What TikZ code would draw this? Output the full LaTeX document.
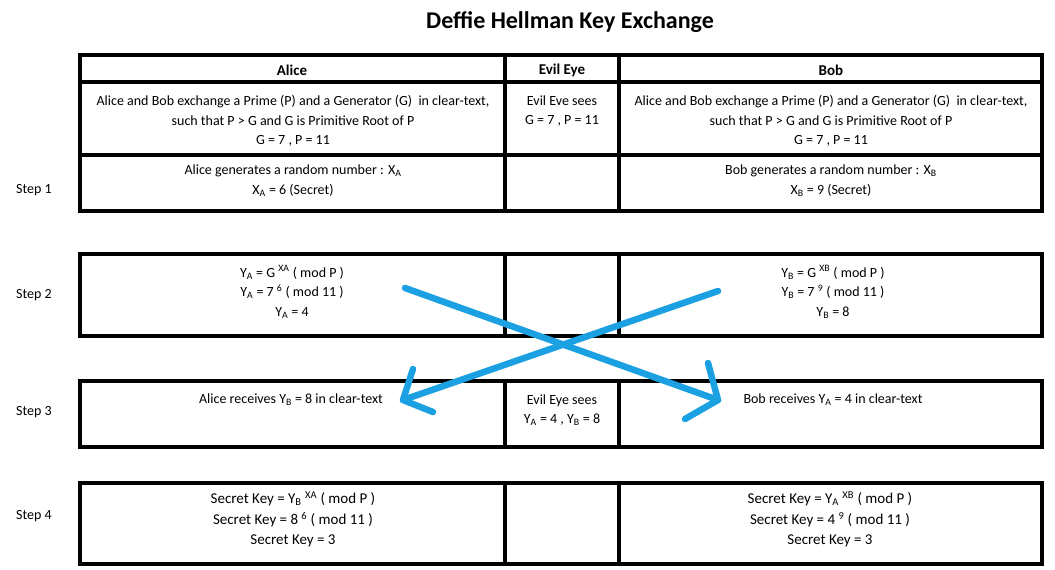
\documentclass[tikz,border=0pt]{standalone}
\usepackage{fontspec}
\setmainfont{Carlito}
\definecolor{arrowblue}{RGB}{27,161,226}
\begin{document}
\begin{tikzpicture}[x=1pt,y=-1pt,
  frame/.style={line width=4pt},
  cell/.style={align=center,inner sep=0pt,font=\fontsize{14}{19.5}\selectfont},
  hdr/.style={inner sep=0pt,font=\fontsize{15}{17}\selectfont\bfseries},
  steplbl/.style={inner sep=0pt,font=\fontsize{14}{16}\selectfont},
  bigarrow/.style={arrowblue,line width=6.5pt,line cap=round,line join=round}]
\useasboundingbox (0,0) rectangle (1055,570);
\fill[white] (0,0) rectangle (1055,570);
% title
\node[inner sep=0pt,font=\fontsize{24}{28}\selectfont\bfseries] (title) at (570,22) {Deffie Hellman Key Exchange};
% table 1
\draw[frame] (80,55) rectangle (1042,211);
\draw[frame] (80,82) -- (1042,82);
\draw[frame] (80,155) -- (1042,155);
\draw[frame] (505,55) -- (505,211);
\draw[frame] (619,55) -- (619,211);
% box 2
\draw[frame] (80,254) rectangle (1042,336);
\draw[frame] (505,254) -- (505,336);
\draw[frame] (619,254) -- (619,336);
% box 3
\draw[frame] (80,381) rectangle (1042,447);
\draw[frame] (505,381) -- (505,447);
\draw[frame] (619,381) -- (619,447);
% box 4
\draw[frame] (80,483) rectangle (1042,564);
\draw[frame] (505,483) -- (505,564);
\draw[frame] (619,483) -- (619,564);
% headers
\node[hdr] (hA) at (292,70) {Alice};
\node[hdr] (hE) at (562,70) {Evil Eye};
\node[hdr] (hB) at (831,70) {Bob};
% row: parameters
\node[cell] (r1A) at (293,121) {Alice and Bob exchange a Prime (P) and a Generator (G) \ in clear-text,\\ such that P > G and G is Primitive Root of P\\ G = 7 , P = 11};
\node[cell] (r1E) at (562,111) {Evil Eve sees\\ G = 7 , P = 11};
\node[cell] (r1B) at (831,121) {Alice and Bob exchange a Prime (P) and a Generator (G) \ in clear-text,\\ such that P > G and G is Primitive Root of P\\ G = 7 , P = 11};
% step 1
\node[cell] (s1A) at (293,180.5) {Alice generates a random number : X\textsubscript{A}\\ X\textsubscript{A} = 6 (Secret)};
\node[cell] (s1B) at (831,180.5) {Bob generates a random number : X\textsubscript{B}\\ X\textsubscript{B} = 9 (Secret)};
% step 2
\node[cell] (s2A) at (292,292) {Y\textsubscript{A} = G \textsuperscript{XA} ( mod P )\\ Y\textsubscript{A} = 7 \textsuperscript{6} ( mod 11 )\\ Y\textsubscript{A} = 4};
\node[cell] (s2B) at (833,292) {Y\textsubscript{B} = G \textsuperscript{XB} ( mod P )\\ Y\textsubscript{B} = 7 \textsuperscript{9} ( mod 11 )\\ Y\textsubscript{B} = 8};
% step 3
\node[cell] (s3A) at (291,400) {Alice receives Y\textsubscript{B} = 8 in clear-text};
\node[cell] (s3E) at (562,410) {Evil Eye sees\\ Y\textsubscript{A} = 4 , Y\textsubscript{B} = 8};
\node[cell] (s3B) at (833,400) {Bob receives Y\textsubscript{A} = 4 in clear-text};
% step 4
\node[cell,font=\fontsize{15}{20.5}\selectfont] (s4A) at (293,519.5) {Secret Key = Y\textsubscript{B} \textsuperscript{XA} ( mod P )\\ Secret Key = 8 \textsuperscript{6} ( mod 11 )\\ Secret Key = 3};
\node[cell,font=\fontsize{15}{20.5}\selectfont] (s4B) at (830,519.5) {Secret Key = Y\textsubscript{A} \textsuperscript{XB} ( mod P )\\ Secret Key = 4 \textsuperscript{9} ( mod 11 )\\ Secret Key = 3};
% step labels
\node[steplbl] (st1) at (34,190) {Step 1};
\node[steplbl] (st2) at (34,295) {Step 2};
\node[steplbl] (st3) at (34,412) {Step 3};
\node[steplbl] (st4) at (34,516) {Step 4};
% arrows
\coordinate (a1s) at (405,288);
\coordinate (a1t) at (718,400);
\coordinate (a1b1) at (708,363);
\coordinate (a1b2) at (685,419);
\coordinate (a2s) at (718,291);
\coordinate (a2t) at (403,400);
\coordinate (a2b1) at (413,369);
\coordinate (a2b2) at (433,412);
\draw[bigarrow] (a1s) -- (a1t);
\draw[bigarrow] (a1b1) -- (a1t) -- (a1b2);
\draw[bigarrow] (a2s) -- (a2t);
\draw[bigarrow] (a2b1) -- (a2t) -- (a2b2);
\end{tikzpicture}
\end{document}
